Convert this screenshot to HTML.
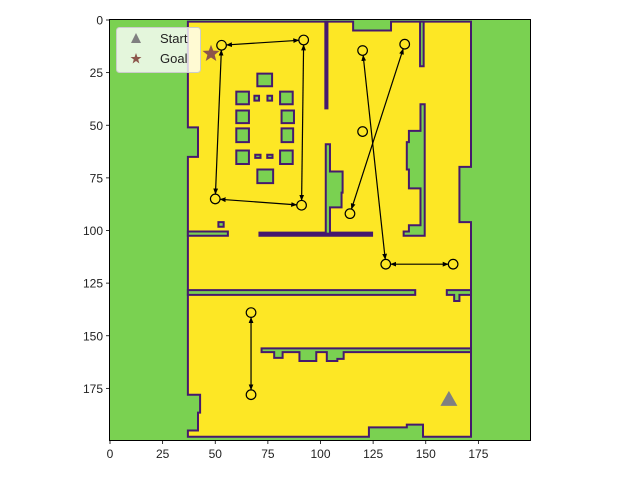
<!DOCTYPE html>
<html><head><meta charset="utf-8"><style>
html,body{margin:0;padding:0;background:#fff;}
svg{display:block;font-family:"Liberation Sans","DejaVu Sans",sans-serif;}
</style></head><body>
<svg id="chart" width="640" height="480" viewBox="0 0 640 480">
<defs>
<marker id="ah" viewBox="0 0 10 10" refX="9" refY="5" markerWidth="5" markerHeight="5" orient="auto-start-reverse"><path d="M0,1 L10,5 L0,9 z" fill="#000"/></marker>
</defs>
<g id="plot"></g>
<g id="axes"></g>
</svg>
<script>
// ---- data ----
const xTicks=[0,25,50,75,100,125,150,175];
const yTicks=[0,25,50,75,100,125,150,175];
const waypointX=[53,92,91,50,120,120,114,140,131,163,67,67];
const waypointY=[12,9.5,88,85,14.5,53,92,11.5,116,116,139,178];
const edgeFrom=[0,1,2,3,4,7,8,10];
const edgeTo=[1,2,3,0,8,6,9,11];
const startPt=[161,180];
const goalPt=[48,16];
const X0=110,Y0=20,S=2.105,W=200;
const sx=u=>X0+u*S, sy=v=>Y0+v*S;
const NS="http://www.w3.org/2000/svg";
function mk(tag,attrs,parent){const e=document.createElementNS(NS,tag);for(const k in attrs)e.setAttribute(k,attrs[k]);parent.appendChild(e);return e;}
const plot=document.getElementById('plot'),axes=document.getElementById('axes');
const GREEN="#7ad151",YEL="#fde725",PUR="#46196e";
function poly(pts,fill,name){const p=mk('polygon',{points:pts.map(q=>sx(q[0])+','+sy(q[1])).join(' '),fill:fill,stroke:PUR,'stroke-width':2,'stroke-linejoin':'miter'},plot);


return p;}
function rect(u1,v1,u2,v2,fill,name){return poly([[u1,v1],[u2,v1],[u2,v2],[u1,v2]],fill,name);}
// background
const bg=mk('rect',{x:sx(0)-0.5,y:sy(0)-0.5,width:W*S,height:W*S,fill:GREEN},plot);


// free region
poly([[37,0.8],[115.5,0.8],[115.5,5],[133.5,5],[133.5,0.8],[171.5,0.8],[171.5,69.8],[166,69.8],[166,96],[171.5,96],[171.5,198],[148.7,198],[148.7,192.2],[141,192.2],[141,193.5],[123,193.5],[123,198],[37,198],[37,195],[41.8,195],[41.8,186.5],[42.8,186.5],[42.8,178],[37,178],[37,65],[41.8,65],[41.8,51],[37,51]],YEL,'free-region');
// walls
rect(102.3,0.8,103.3,42,PUR,'wall-vertical-top');
rect(147.3,0.8,149,22,GREEN,'wall-right-top');
rect(37,100.5,56,102.5,GREEN,'wall-left-stub');
rect(51.5,96,54,98.2,GREEN,'small-obstacle');
rect(71,101,124.5,102.5,PUR,'wall-horizontal-mid');
poly([[102.5,59],[104.5,59],[104.5,72],[110.5,72],[110.5,82],[110,82],[110,89],[104.5,89],[104.5,101.5],[102.5,101.5]],GREEN,'wall-column-mid');
poly([[147.5,40],[149.5,40],[149.5,102.5],[139.5,102.5],[139.5,100.5],[142,100.5],[142,97.5],[147.5,97.5],[147.5,80],[142,80],[142,71],[141,71],[141,58],[142,58],[142,52.7],[147.5,52.7]],GREEN,'wall-column-right');
rect(37,128.3,145,130.6,GREEN,'wall-horizontal-divider-left');
poly([[160,128.3],[171.5,128.3],[171.5,130.6],[166,130.6],[166,133.5],[163.5,133.5],[163.5,130.6],[160,130.6]],GREEN,'wall-horizontal-divider-right');
poly([[72,156],[171.5,156],[171.5,157.8],[111,157.8],[111,161],[108,161],[108,162],[103,162],[103,157.8],[98,157.8],[98,162],[90,162],[90,157.8],[82,157.8],[82,160.5],[78,160.5],[78,157.8],[72,157.8]],GREEN,'wall-horizontal-lower');
// obstacles
const obs=[[60,34,66,40],[60,43,66,49],[60,51.5,66,58],[60,62,66,68.4],[80.8,34,86.8,40],[81.5,43,87.4,49],[81.5,51.5,87,58],[80.8,62,86.8,68.4],[68.6,36,70.8,38.3],[74.8,36,77,38.3],[69,64,71.5,65.5],[74.7,64,77.2,65.5],[70,25.5,77,31.5],[70,71,77.5,77.5]];
obs.forEach((o,i)=>{rect(o[0],o[1],o[2],o[3],GREEN,'obstacle-'+i);});
// path edges
for(let i=0;i<edgeFrom.length;i++){const a=edgeFrom[i],b=edgeTo[i];
 const x1=sx(waypointX[a]),y1=sy(waypointY[a]),x2=sx(waypointX[b]),y2=sy(waypointY[b]);
 const d=Math.hypot(x2-x1,y2-y1),r=5/d;
 const l=mk('line',{x1:x1+(x2-x1)*r,y1:y1+(y2-y1)*r,x2:x2-(x2-x1)*r,y2:y2-(y2-y1)*r,stroke:'#000','stroke-width':1.2,'marker-end':'url(#ah)','marker-start':'url(#ah)'},plot);
 
 
}
for(let i=0;i<waypointX.length;i++){
 const c=mk('circle',{cx:sx(waypointX[i]),cy:sy(waypointY[i]),r:4.8,fill:YEL,stroke:'#000','stroke-width':1.2},plot);
 
 
}
// start/goal
const tx=sx(startPt[0]),ty=sy(startPt[1]);
const st=mk('polygon',{points:`${tx},${ty-8} ${tx-8.5},${ty+7} ${tx+8.5},${ty+7}`,fill:'#808080'},plot);


function star(cx,cy,R,r){let p=[];for(let k=0;k<10;k++){const a=-Math.PI/2+k*Math.PI/5,rr=k%2?r:R;p.push((cx+rr*Math.cos(a)).toFixed(1)+','+(cy+rr*Math.sin(a)).toFixed(1));}return p.join(' ');}
const gl=mk('polygon',{points:star(sx(goalPt[0]),sy(goalPt[1]),9,3.8),fill:'#8c564b'},plot);


// frame
const fr=mk('rect',{x:sx(0)-0.5,y:sy(0)-0.5,width:W*S,height:W*S,fill:'none',stroke:'#000','stroke-width':1},axes);


xTicks.forEach(t=>{const x=sx(t);
 const l=mk('line',{x1:x,y1:sy(W)-0.5,x2:x,y2:sy(W)+3,stroke:'#000','stroke-width':0.8},axes);
 
 
 const tt=mk('text',{x:x,y:sy(W)+17,'text-anchor':'middle','font-size':12,fill:'#222'},axes);tt.textContent=t;
 
 
});
yTicks.forEach(t=>{const y=sy(t);
 const l=mk('line',{x1:sx(0)-4,y1:y,x2:sx(0)-0.5,y2:y,stroke:'#000','stroke-width':0.8},axes);
 
 
 const tt=mk('text',{x:sx(0)-7,y:y+4.5,'text-anchor':'end','font-size':12,fill:'#222'},axes);tt.textContent=t;
 
 
});
</script>
<svg style="position:absolute;left:0;top:0" width="640" height="480">
<g font-family="Liberation Sans, DejaVu Sans, sans-serif">
<rect x="116.5" y="27.5" width="84" height="45" rx="3" fill="#fff" fill-opacity="0.8" stroke="#ccc"/>
<polygon points="136,33 131,43 141,43" fill="#808080"/>
<text x="160" y="43" font-size="13" fill="#222">Start</text>
<polygon points="136,53 137.4,57 141.5,57 138.2,59.5 139.4,63.5 136,61 132.6,63.5 133.8,59.5 130.5,57 134.6,57" fill="#8c564b"/>
<text x="160" y="63" font-size="13" fill="#222">Goal</text>
</g>
</svg>
</body></html>
